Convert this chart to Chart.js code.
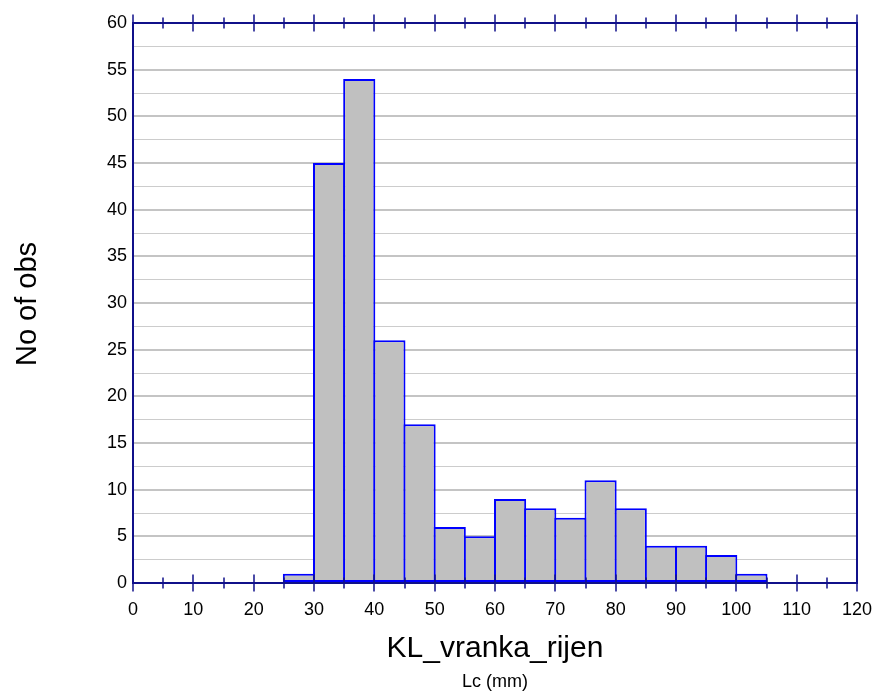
<!DOCTYPE html>
<html>
<head>
<meta charset="utf-8">
<script src="https://cdn.jsdelivr.net/npm/chart.js@4/dist/chart.umd.min.js"></script>
<style>
  html, body { margin: 0; padding: 0; background: #fff; }
  #wrap { width: 874px; height: 691px; }
</style>
</head>
<body>
<div id="wrap"><canvas id="c" width="874" height="691"></canvas></div>
<script>
// Histogram bins (lower edge, mm) and counts per 5 mm class
const binStarts = [25, 30, 35, 40, 45, 50, 55, 60, 65, 70, 75, 80, 85, 90, 95, 100];
const counts    = [1, 45, 54, 26, 17, 6, 5, 9, 8, 7, 11, 8, 4, 4, 3, 1];
const binWidth = 5;
const xTickLabels = [0, 10, 20, 30, 40, 50, 60, 70, 80, 90, 100, 110, 120];
const yTickLabels = [0, 5, 10, 15, 20, 25, 30, 35, 40, 45, 50, 55, 60];
const xTitle = 'KL_vranka_rijen';
const xSubTitle = 'Lc (mm)';
const yTitle = 'No of obs';

const AXIS = '#10108a';
const FONT = 'Liberation Sans, Arial, sans-serif';

const points = binStarts.map((s, i) => ({ x: s + binWidth / 2, y: counts[i] }));

// Frame, crossing tick marks on top/bottom axes, and axis titles
const framePlugin = {
  id: 'frame',
  afterDatasetsDraw(chart) {
    const { ctx, chartArea: a, scales: { x } } = chart;
    ctx.save();
    ctx.strokeStyle = AXIS;
    ctx.lineWidth = 2;
    ctx.strokeRect(a.left, a.top, a.right - a.left, a.bottom - a.top);
    ctx.lineWidth = 1.5;
    for (let v = 0; v <= 120; v += 5) {
      const px = Math.round(x.getPixelForValue(v));
      const h = (v % 10 === 0) ? 8.5 : 5.5;
      ctx.beginPath();
      ctx.moveTo(px, a.top - h); ctx.lineTo(px, a.top + h);
      ctx.moveTo(px, a.bottom - h); ctx.lineTo(px, a.bottom + h);
      ctx.stroke();
    }
    ctx.fillStyle = '#000';
    ctx.textAlign = 'center';
    ctx.textBaseline = 'alphabetic';
    const cx = (a.left + a.right) / 2;
    ctx.font = '30px ' + FONT;
    ctx.fillText(xTitle, cx, 657);
    ctx.font = '18px ' + FONT;
    ctx.fillText(xSubTitle, cx, 687);
    ctx.translate(36, 304);
    ctx.rotate(-Math.PI / 2);
    ctx.font = '29px ' + FONT;
    ctx.fillText(yTitle, 0, 0);
    ctx.restore();
  }
};

new Chart(document.getElementById('c'), {
  type: 'bar',
  data: {
    datasets: [{
      data: points,
      backgroundColor: '#c0c0c0',
      borderColor: '#0000ff',
      borderWidth: 2,
      // slight overlap so neighbouring bars share a single 2px edge
      barPercentage: 1.066,
      categoryPercentage: 1,
      borderSkipped: false
    }]
  },
  options: {
    responsive: false,
    animation: false,
    events: [],
    layout: { padding: { left: 0, right: 17, top: 23, bottom: 0 } },
    plugins: { legend: { display: false }, tooltip: { enabled: false } },
    scales: {
      x: {
        type: 'linear',
        min: 0, max: 120,
        offset: false,
        border: { display: false },
        grid: { display: false, offset: false },
        afterFit(s) { s.height = 108; s.paddingLeft = 0; s.paddingRight = 0; },
        afterBuildTicks(s) { s.ticks = xTickLabels.map(v => ({ value: v })); },
        ticks: {
          autoSkip: false,
          maxRotation: 0,
          padding: 8,
          color: '#000',
          font: { family: FONT, size: 18 },
          callback: v => String(v)
        }
      },
      y: {
        min: 0, max: 60,
        border: { display: false },
        afterFit(s) { s.width = 133; s.paddingTop = 0; s.paddingBottom = 0; },
        afterBuildTicks(s) {
          const t = [];
          for (let v = 0; v <= 60; v += 2.5) t.push({ value: v });
          s.ticks = t;
        },
        grid: {
          drawTicks: false,
          color: c => (c.tick.value % 5 === 0 ? '#c4c4c4' : '#cccccc'),
          lineWidth: c => (c.tick.value % 5 === 0 ? 2 : 1)
        },
        ticks: {
          autoSkip: false,
          padding: 6,
          color: '#000',
          font: { family: FONT, size: 18 },
          callback: v => (yTickLabels.includes(v) ? String(v) : '')
        }
      }
    }
  },
  plugins: [framePlugin]
});
</script>
</body>
</html>
